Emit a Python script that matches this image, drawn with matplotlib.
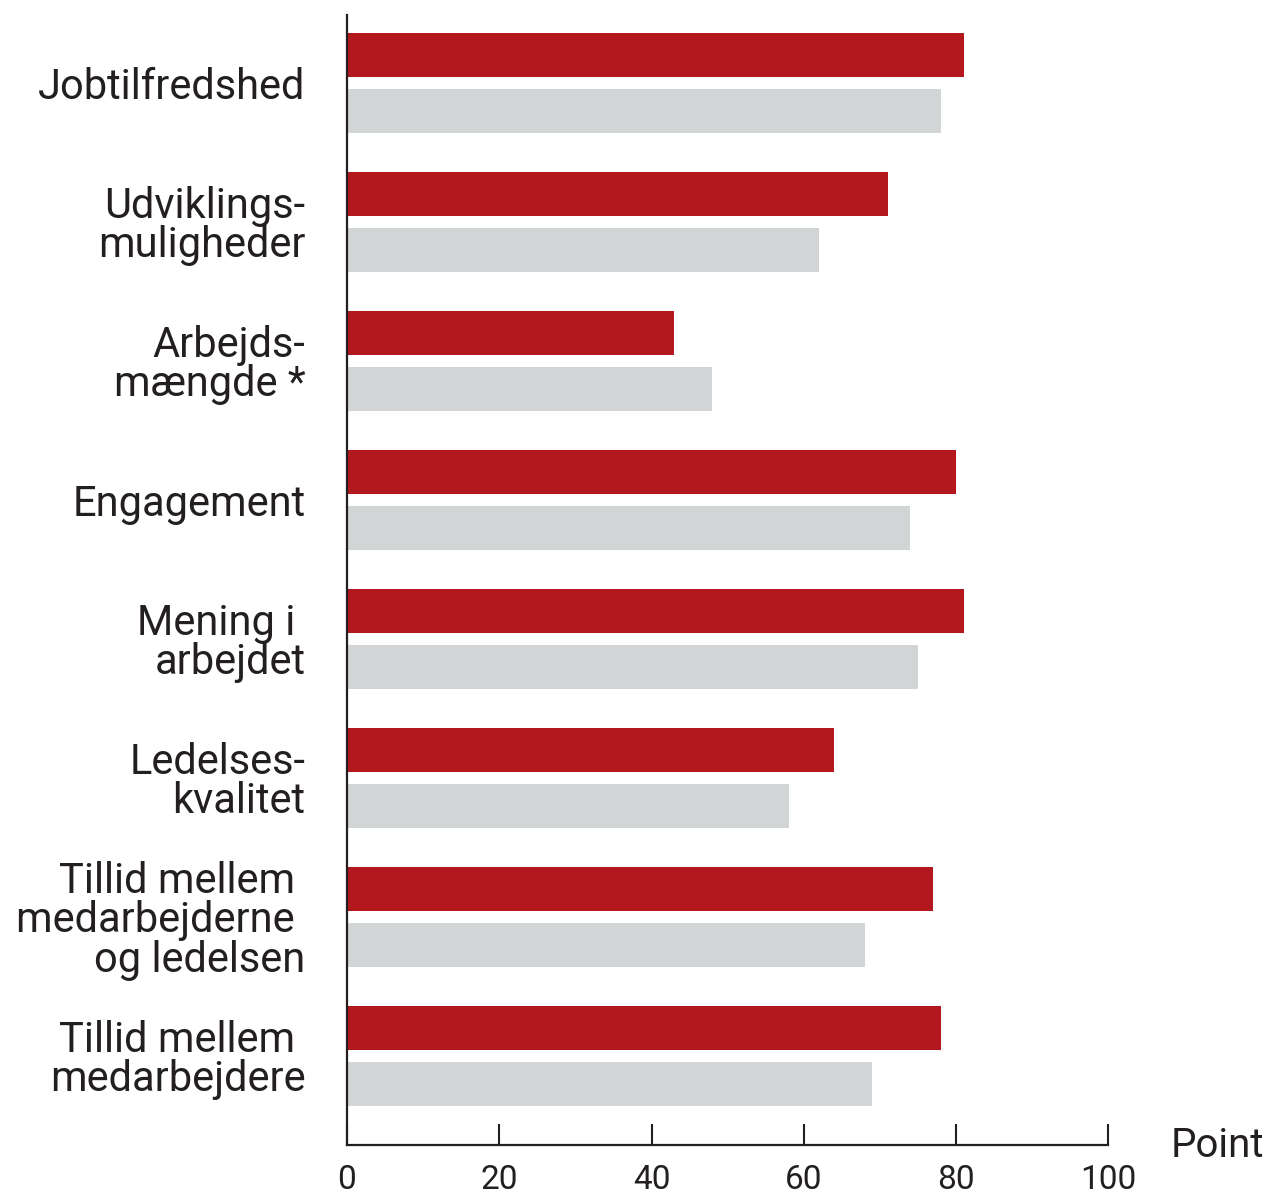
import matplotlib
matplotlib.use('Agg')
import matplotlib.pyplot as plt
import numpy as np

categories = [
    'Jobtilfredshed',
    'Udviklings-\nmuligheder',
    'Arbejds-\nmængde *',
    'Engagement',
    'Mening i \narbejdet',
    'Ledelses-\nkvalitet',
    'Tillid mellem \nmedarbejderne \nog ledelsen',
    'Tillid mellem \nmedarbejdere',
]
red_values = [81, 71, 43, 80, 81, 64, 77, 78]
grey_values = [78, 62, 48, 74, 75, 58, 68, 69]
x_ticks = [0, 20, 40, 60, 80, 100]

RED = '#b3181e'
GREY = '#d1d5d6'
TEXT = '#231f20'


def main():
    plt.rcParams['font.family'] = ['Roboto', 'DejaVu Sans']
    fig = plt.figure(figsize=(12.71, 11.94), dpi=100)
    ax = fig.add_axes([0.273, 0.041, 0.599, 0.9465])

    y = np.arange(len(categories))
    h = 0.3165
    off = 0.2015
    ax.barh(y - off, red_values, height=h, color=RED)
    ax.barh(y + off, grey_values, height=h, color=GREY)

    ax.set_xlim(0, 100)
    ax.set_ylim(len(categories) - 1 + 0.64, -0.49)
    ax.set_xticks(x_ticks)
    ax.set_xticklabels([str(t) for t in x_ticks], fontsize=24, color=TEXT)
    ax.tick_params(axis='x', direction='in', length=15, width=1.5,
                   color=TEXT, pad=14)
    ax.set_yticks(y)
    ax.set_yticklabels(categories, fontsize=30, color=TEXT, linespacing=0.95)
    ax.tick_params(axis='y', length=0, pad=30)

    for s in ['top', 'right']:
        ax.spines[s].set_visible(False)
    for s in ['left', 'bottom']:
        ax.spines[s].set_linewidth(1.6)
        ax.spines[s].set_color(TEXT)

    ax.text(1.082, 0.0, 'Point', transform=ax.transAxes, fontsize=29,
            color=TEXT, ha='left', va='center')

    fig.savefig('out.png', dpi=100)


if __name__ == '__main__':
    main()
